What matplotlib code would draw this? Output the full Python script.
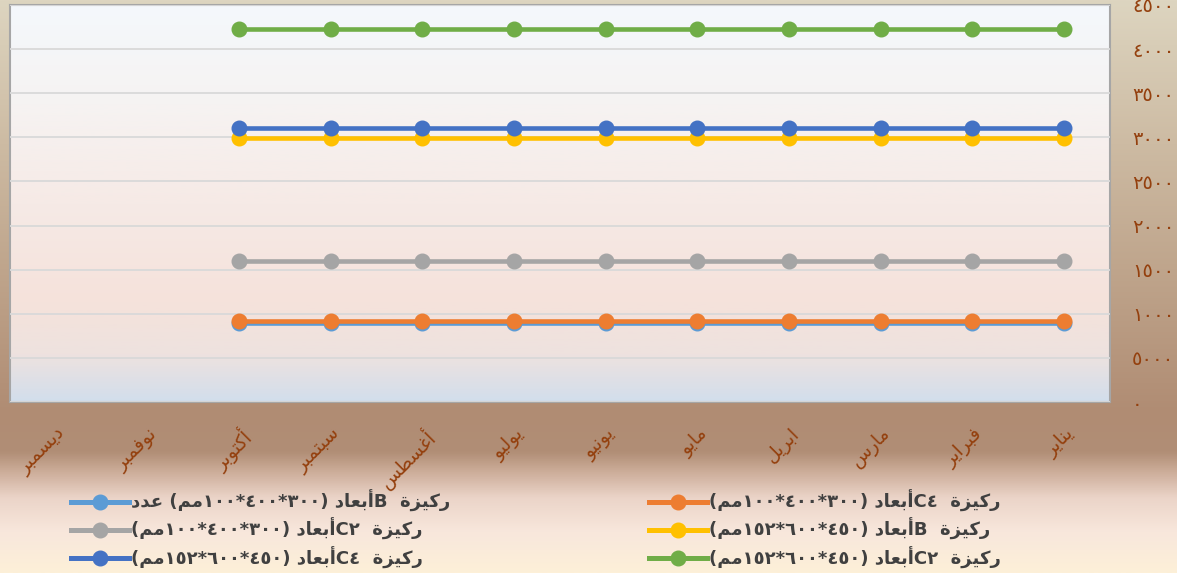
import numpy as np
import matplotlib
matplotlib.use("Agg")
import matplotlib.pyplot as plt
from matplotlib.colors import LinearSegmentedColormap
from matplotlib.lines import Line2D

# ---------------- data ----------------
months = ['يناير', 'فبراير', 'مارس', 'ابريل', 'مايو', 'يونيو',
          'يوليو', 'أغسطس', 'سبتمبر', 'أكتوبر', 'نوفمبر', 'ديسمبر']
s_b_small = [8900, 8900, 8900, 8900, 8900, 8900, 8900, 8900, 8900, 8900, None, None]
s_c4_small = [9200, 9200, 9200, 9200, 9200, 9200, 9200, 9200, 9200, 9200, None, None]
s_c2_small = [16000, 16000, 16000, 16000, 16000, 16000, 16000, 16000, 16000, 16000, None, None]
s_b_large = [29900, 29900, 29900, 29900, 29900, 29900, 29900, 29900, 29900, 29900, None, None]
s_c4_large = [31100, 31100, 31100, 31100, 31100, 31100, 31100, 31100, 31100, 31100, None, None]
s_c2_large = [42300, 42300, 42300, 42300, 42300, 42300, 42300, 42300, 42300, 42300, None, None]
y_ticks = [0, 5000, 10000, 15000, 20000, 25000, 30000, 35000, 40000, 45000]

# ---------------- arabic shaping (presentation forms) ----------------
FORMS = {  # iso, fin, ini, med
    'ا': ('\uFE8D', '\uFE8E', None, None),
    'أ': ('\uFE83', '\uFE84', None, None),
    'ب': ('\uFE8F', '\uFE90', '\uFE91', '\uFE92'),
    'ة': ('\uFE93', '\uFE94', None, None),
    'ت': ('\uFE95', '\uFE96', '\uFE97', '\uFE98'),
    'د': ('\uFEA9', '\uFEAA', None, None),
    'ر': ('\uFEAD', '\uFEAE', None, None),
    'ز': ('\uFEAF', '\uFEB0', None, None),
    'س': ('\uFEB1', '\uFEB2', '\uFEB3', '\uFEB4'),
    'ط': ('\uFEC1', '\uFEC2', '\uFEC3', '\uFEC4'),
    'ع': ('\uFEC9', '\uFECA', '\uFECB', '\uFECC'),
    'غ': ('\uFECD', '\uFECE', '\uFECF', '\uFED0'),
    'ف': ('\uFED1', '\uFED2', '\uFED3', '\uFED4'),
    'ك': ('\uFED9', '\uFEDA', '\uFEDB', '\uFEDC'),
    'ل': ('\uFEDD', '\uFEDE', '\uFEDF', '\uFEE0'),
    'م': ('\uFEE1', '\uFEE2', '\uFEE3', '\uFEE4'),
    'ن': ('\uFEE5', '\uFEE6', '\uFEE7', '\uFEE8'),
    'و': ('\uFEED', '\uFEEE', None, None),
    'ي': ('\uFEF1', '\uFEF2', '\uFEF3', '\uFEF4'),
}


def dual(ch):
    return ch in FORMS and FORMS[ch][2] is not None


def ar(word):
    """shape an Arabic word and return it in visual (left-to-right) order"""
    out = []
    n = len(word)
    for i, ch in enumerate(word):
        if ch not in FORMS:
            out.append(ch)
            continue
        prev_j = i > 0 and dual(word[i - 1])
        next_j = i < n - 1 and word[i + 1] in FORMS and dual(ch)
        iso, fin, ini, med = FORMS[ch]
        if prev_j and next_j:
            g = med
        elif prev_j:
            g = fin
        elif next_j:
            g = ini
        else:
            g = iso
        out.append(g)
    return ''.join(reversed(out))


DIM_S = '١٠٠*٤٠٠*٣٠٠'
DIM_L = '١٥٢*٦٠٠*٤٥٠'
lbl_b_small = ar('عدد') + ' (' + ar('مم') + DIM_S + ') ' + ar('أبعاد') + 'B  ' + ar('ركيزة')
lbl_c4_small = '(' + ar('مم') + DIM_S + ') ' + ar('أبعاد') + 'C٤  ' + ar('ركيزة')
lbl_c2_small = '(' + ar('مم') + DIM_S + ') ' + ar('أبعاد') + 'C٢  ' + ar('ركيزة')
lbl_b_large = '(' + ar('مم') + DIM_L + ') ' + ar('أبعاد') + 'B  ' + ar('ركيزة')
lbl_c4_large = '(' + ar('مم') + DIM_L + ') ' + ar('أبعاد') + 'C٤  ' + ar('ركيزة')
lbl_c2_large = '(' + ar('مم') + DIM_L + ') ' + ar('أبعاد') + 'C٢  ' + ar('ركيزة')

AR_DIGITS = str.maketrans('0123456789', '٠١٢٣٤٥٦٧٨٩')

# ---------------- figure ----------------
W, H = 1177, 573
fig = plt.figure(figsize=(W / 100, H / 100), dpi=100)

# figure background gradient
bg = fig.add_axes([0, 0, 1, 1], zorder=-10)
bg_cmap = LinearSegmentedColormap.from_list('bg', [
    (0.0, '#DDD5C0'), (0.25, '#CDBBA3'), (0.5, '#BDA289'), (0.72, '#B08C73'),
    (0.79, '#B18E76'), (0.82, '#C9A995'), (0.87, '#EBD4C8'), (0.93, '#F8E7DC'),
    (1.0, '#FDF0D8')])
bg.imshow(np.linspace(0, 1, 256).reshape(-1, 1), aspect='auto', cmap=bg_cmap,
          extent=[0, 1, 0, 1], origin='upper')
bg.set_axis_off()

ax = fig.add_axes([10 / W, 1 - 402 / H, 1100 / W, 397 / H])
pa_cmap = LinearSegmentedColormap.from_list('pa', [
    (0.0, '#F4F8FC'), (0.25, '#F6F3F2'), (0.5, '#F6EAE6'), (0.75, '#F5E2DB'),
    (0.88, '#EEE2DF'), (1.0, '#D2DEEC')])
ax.imshow(np.linspace(0, 1, 256).reshape(-1, 1), aspect='auto', cmap=pa_cmap,
          extent=[0, 1, 0, 1], origin='upper', transform=ax.transAxes, zorder=0)

x = np.arange(len(months))
series = [
    (s_b_small, '#5B9BD5', lbl_b_small),
    (s_c4_small, '#ED7D31', lbl_c4_small),
    (s_c2_small, '#A5A5A5', lbl_c2_small),
    (s_b_large, '#FFC000', lbl_b_large),
    (s_c4_large, '#4472C4', lbl_c4_large),
    (s_c2_large, '#70AD47', lbl_c2_large),
]
handles = {}
for vals, col, lbl in series:
    v = np.array([np.nan if a is None else a for a in vals], dtype=float)
    ax.plot(x, v, color=col, lw=3.3, marker='o', markersize=10.5,
            solid_capstyle='round', zorder=3)
    handles[lbl] = Line2D([], [], color=col, lw=3.6, marker='o', markersize=10.5)

ax.set_xlim(11.5, -0.5)
ax.set_ylim(0, 45000)
ax.set_yticks(y_ticks)
ax.set_yticklabels([str(t).translate(AR_DIGITS) for t in y_ticks])
ax.yaxis.tick_right()
ax.grid(axis='y', color='#D9D9D9', lw=1.3, zorder=1)
ax.set_axisbelow(False)
ax.tick_params(axis='y', length=0, pad=16, labelsize=14, labelcolor='#94400E')
for lab in ax.get_yticklabels():
    lab.set_horizontalalignment('left')
ax.set_xticks(x)
ax.set_xticklabels([ar(m) for m in months], rotation=45, ha='right', va='top',
                   rotation_mode='anchor')
ax.tick_params(axis='x', length=0, pad=16, labelsize=13.5, labelcolor='#94400E')
for sp in ax.spines.values():
    sp.set_color('#A6A6A6')
    sp.set_linewidth(1.5)

# legend, two columns
left_lbls = [lbl_b_small, lbl_c2_small, lbl_c4_large]
right_lbls = [lbl_c4_small, lbl_b_large, lbl_c2_large]
leg_kw = dict(frameon=False, prop={'weight': 'bold', 'size': 13}, handlelength=3.2,
              handletextpad=0.12, labelspacing=0.33, borderpad=0, labelcolor='#404040')
leg1 = fig.legend([handles[l] for l in left_lbls], left_lbls, loc='upper left',
                  bbox_to_anchor=(62 / W, 1 - 481 / H), **leg_kw)
leg2 = fig.legend([handles[l] for l in right_lbls], right_lbls, loc='upper left',
                  bbox_to_anchor=(640 / W, 1 - 481 / H), **leg_kw)

fig.savefig('out.png', dpi=100)
